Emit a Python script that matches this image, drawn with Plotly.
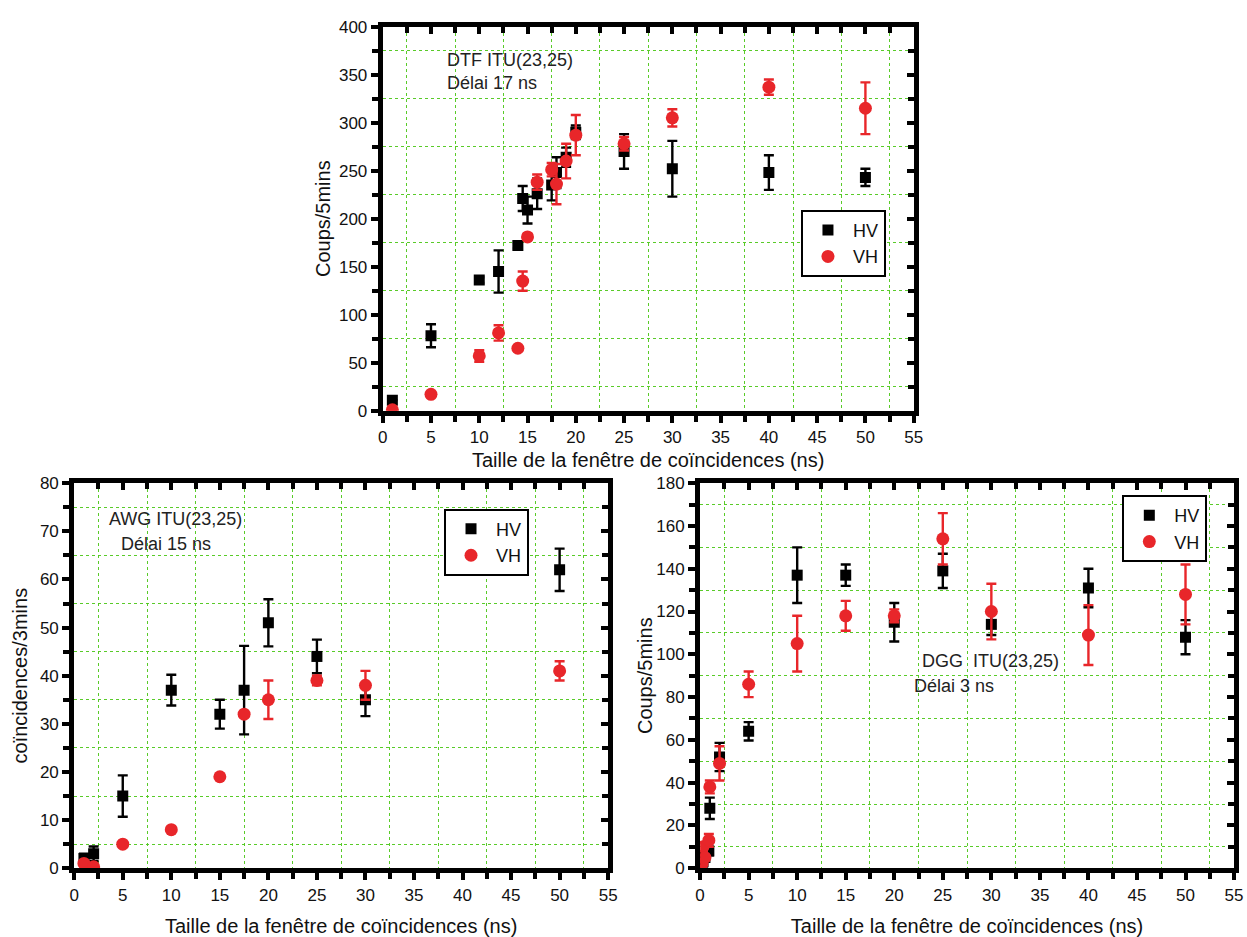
import plotly.graph_objects as go

# ---------------- DATA ----------------
# DTF ITU(23,25), délai 17 ns  (Coups/5mins)
dtf_hv_x = [1, 5, 10, 12, 14, 14.5, 15, 16, 17.5, 18, 19, 20, 25, 30, 40, 50]
dtf_hv_y = [11, 78, 136, 145, 172, 221, 209, 226, 235, 248, 264, 290, 270, 252, 248, 243]
dtf_hv_err = [0, 12, 3, 22, 3, 13, 14, 16, 16, 16, 10, 7, 18, 29, 18, 9]
dtf_vh_x = [1, 5, 10, 12, 14, 14.5, 15, 16, 17.5, 18, 19, 20, 25, 30, 40, 50]
dtf_vh_y = [1, 17, 57, 81, 65, 135, 181, 238, 251, 236, 260, 287, 278, 305, 337, 315]
dtf_vh_err = [0, 0, 6, 8, 0, 10, 3, 8, 7, 21, 18, 21, 7, 9, 8, 27]

# AWG ITU(23,25), délai 15 ns  (coïncidences/3mins)
awg_hv_x = [1, 2, 5, 10, 15, 17.5, 20, 25, 30, 50]
awg_hv_y = [2, 3, 15, 37, 32, 37, 51, 44, 35, 62]
awg_hv_err = [1, 1.5, 4.3, 3.2, 3, 9.2, 4.9, 3.5, 3.4, 4.4]
awg_vh_x = [1, 2, 5, 10, 15, 17.5, 20, 25, 30, 50]
awg_vh_y = [1, 0.3, 5, 8, 19, 32, 35, 39, 38, 41]
awg_vh_err = [0.5, 0, 0, 0, 0, 0.5, 4, 1, 3, 2]

# DGG ITU(23,25), délai 3 ns  (Coups/5mins)
dgg_hv_x = [0.2, 0.3, 0.5, 0.9, 1, 2, 5, 10, 15, 20, 25, 30, 40, 50]
dgg_hv_y = [1, 3, 5, 8, 28, 52, 64, 137, 137, 115, 139, 114, 131, 108]
dgg_hv_err = [1, 1, 2, 2, 5, 6.6, 4.3, 13, 5, 9, 8, 5, 9, 8]
dgg_vh_x = [0.2, 0.3, 0.5, 0.9, 1, 2, 5, 10, 15, 20, 25, 30, 40, 50]
dgg_vh_y = [2, 10, 5, 13, 38, 49, 86, 105, 118, 118, 154, 120, 109, 128]
dgg_vh_err = [1, 2, 1, 3, 3, 8, 6, 13, 7, 3, 12, 13, 14, 14]

x_title = "Taille de la fenêtre de coïncidences (ns)"
series_names = ["HV", "VH"]

# ---------------- STYLE ----------------
W, H = 1247, 937
BLACK = "#000000"
RED = "#e8262a"
GREEN = "rgba(80,200,30,0.95)"
FAM = "Liberation Sans, Arial, sans-serif"
TICKFONT = dict(family=FAM, size=17, color="#111")
TITLEFONT = dict(family=FAM, size=20, color="#111")
TXTFONT = dict(family=FAM, size=18, color="#222")


def px_dom_x(a, b):
    return [a / W, b / W]


def px_dom_y(top, bottom):
    return [1 - bottom / H, 1 - top / H]


panels = [
    dict(s="", xd=(382, 919), yd=(18, 410), yr=[0, 400], ydt=50, yt="Coups/5mins",
         data=(dtf_hv_x, dtf_hv_y, dtf_hv_err, dtf_vh_x, dtf_vh_y, dtf_vh_err),
         leg="legend", lp=(805, 205), xst=8, yst=4),
    dict(s="2", xd=(70, 610), yd=(484, 877), yr=[0, 80], ydt=10, yt="coïncidences/3mins",
         data=(awg_hv_x, awg_hv_y, awg_hv_err, awg_vh_x, awg_vh_y, awg_vh_err),
         leg="legend2", lp=(444, 510), xst=17, yst=8),
    dict(s="3", xd=(703, 1243), yd=(484, 877), yr=[0, 180], ydt=20, yt="Coups/5mins",
         data=(dgg_hv_x, dgg_hv_y, dgg_hv_err, dgg_vh_x, dgg_vh_y, dgg_vh_err),
         leg="legend3", lp=(1130, 496), xst=17, yst=0),
]

fig = go.Figure()
layout = dict(width=W, height=H, margin=dict(l=0, r=0, t=0, b=0),
              paper_bgcolor="white", plot_bgcolor="white", showlegend=True)

mirror_idx = {"": "4", "2": "5", "3": "6"}

for p in panels:
    s = p["s"]
    xa, ya = "x" + s, "y" + s
    hvx, hvy, hve, vhx, vhy, vhe = p["data"]
    fig.add_trace(go.Scatter(
        x=hvx, y=hvy, mode="markers", name=series_names[0], xaxis=xa, yaxis=ya,
        legend=p["leg"],
        marker=dict(symbol="square", size=11, color=BLACK),
        error_y=dict(type="data", array=hve, color=BLACK, thickness=2.4, width=5)))
    fig.add_trace(go.Scatter(
        x=vhx, y=vhy, mode="markers", name=series_names[1], xaxis=xa, yaxis=ya,
        legend=p["leg"],
        marker=dict(symbol="circle", size=13, color=RED),
        error_y=dict(type="data", array=vhe, color=RED, thickness=2.4, width=5)))

    ydt = p["ydt"]
    layout["xaxis" + s] = dict(
        domain=px_dom_x(*p["xd"]), anchor=ya, range=[0, 55], tick0=0, dtick=5,
        showgrid=False, zeroline=False, showline=True, linewidth=5, linecolor=BLACK,
        mirror=True, ticks="outside", ticklen=7, tickwidth=4, tickcolor=BLACK,
        tickfont=TICKFONT,
        title=dict(text=x_title, font=TITLEFONT, standoff=p["xst"]),
        minor=dict(tick0=2.5, dtick=5, ticks="outside", ticklen=6, tickwidth=4,
                   tickcolor=BLACK, showgrid=True, gridcolor=GREEN, griddash="dot",
                   gridwidth=1))
    layout["yaxis" + s] = dict(
        domain=px_dom_y(*p["yd"]), anchor=xa, range=p["yr"], tick0=0, dtick=ydt,
        showgrid=False, zeroline=False, showline=True, linewidth=5, linecolor=BLACK,
        mirror=True, ticks="outside", ticklen=7, tickwidth=4, tickcolor=BLACK,
        tickfont=TICKFONT,
        title=dict(text=p["yt"], font=TITLEFONT, standoff=p["yst"]),
        minor=dict(tick0=ydt / 2, dtick=ydt, ticks="outside", ticklen=6, tickwidth=4,
                   tickcolor=BLACK, showgrid=True, gridcolor=GREEN, griddash="dot",
                   gridwidth=1))
    # inward ticks on top and right edges
    m = mirror_idx[s]
    layout["xaxis" + m] = dict(
        overlaying=xa, side="top", anchor=ya, range=[0, 55], tick0=0, dtick=5,
        showgrid=False, zeroline=False, showline=False, showticklabels=False,
        ticks="inside", ticklen=7, tickwidth=4, tickcolor=BLACK,
        minor=dict(tick0=2.5, dtick=5, ticks="inside", ticklen=6, tickwidth=4,
                   tickcolor=BLACK))
    layout["yaxis" + m] = dict(
        overlaying=ya, side="right", anchor=xa, range=p["yr"], tick0=0, dtick=ydt,
        showgrid=False, zeroline=False, showline=False, showticklabels=False,
        ticks="inside", ticklen=7, tickwidth=4, tickcolor=BLACK,
        minor=dict(tick0=ydt / 2, dtick=ydt, ticks="inside", ticklen=6, tickwidth=4,
                   tickcolor=BLACK))
    lx, ly = p["lp"]
    layout[p["leg"]] = dict(
        x=lx / W, y=1 - ly / H, xanchor="left", yanchor="top",
        bgcolor="white", bordercolor=BLACK, borderwidth=2,
        font=dict(family=FAM, size=18, color="#111"),
        itemwidth=40, tracegroupgap=0)

# empty traces so that the mirror axes are rendered
for p in panels:
    m = mirror_idx[p["s"]]
    fig.add_trace(go.Scatter(x=[], y=[], xaxis="x" + m, yaxis="y" + m,
                             showlegend=False, hoverinfo="skip"))

ann = [
    ("DTF ITU(23,25)", 445, 52), ("Délai 17 ns", 445, 76),
    ("AWG ITU(23,25)", 103, 521), ("Délai 15 ns", 115, 546),
    ("DGG  ITU(23,25)", 925, 666), ("Délai 3 ns", 917, 691),
]
layout["annotations"] = [
    dict(text=t, x=x / W, y=1 - y / H, xref="paper", yref="paper",
         xanchor="left", yanchor="middle", showarrow=False, font=TXTFONT)
    for t, x, y in ann
]

fig.update_layout(**layout)
fig.write_html("out.html")
